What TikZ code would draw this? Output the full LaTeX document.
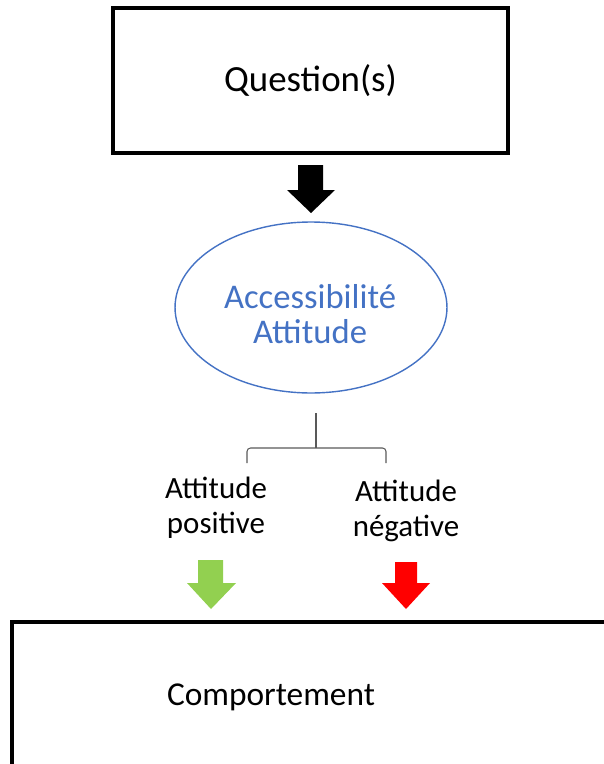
\documentclass[tikz,border=0pt]{standalone}
\usepackage{fontspec}
\setmainfont{Carlito}
\usetikzlibrary{positioning,shapes.geometric}
\definecolor{ellblue}{HTML}{4472C4}
\definecolor{posgreen}{HTML}{92D050}
\definecolor{negred}{HTML}{FF0000}
\tikzset{
  mainbox/.style={draw=black, line width=1.8pt, minimum width=7.9cm, minimum height=2.9cm,
    font=\fontsize{21}{25}\selectfont},
  accell/.style={ellipse, draw=ellblue, line width=0.8pt, minimum width=5.44cm, minimum height=3.42cm},
  acctext/.style={align=center, text=ellblue, font=\fontsize{19.7}{19.8}\selectfont},
  choice/.style={align=center, font=\fontsize{17.6}{19.8}\selectfont},
  bracket/.style={draw=gray!70!black, line width=0.6pt, rounded corners=2pt}
}
\begin{document}
\begin{tikzpicture}[x=0.02cm,y=-0.02cm]
\useasboundingbox (0,0) rectangle (603,764);

\node[mainbox] (question) at (310.5,80.5) {Question(s)};

% black arrow
\fill[black] (298,165) -- (323,165) -- (323,190) -- (335,190) -- (311,213) -- (287,190) -- (298,190) -- cycle;

\node[accell] (access) at (311,307.5) {};
\node[acctext] (accesstext) at (310,314) {Accessibilité\\Attitude};

% split
\coordinate (stem) at (316,413);
\coordinate (fork) at (316,448);
\coordinate (lefttick) at (247,463);
\coordinate (righttick) at (386,463);
\draw[bracket] (stem) -- (fork);
\draw[bracket] (lefttick) |- (fork) -| (righttick);

\node[choice] (positive) at (216,508) {Attitude\\positive};
\node[choice] (negative) at (406,511) {Attitude\\négative};

% coloured arrows
\fill[posgreen] (198,560) -- (223,560) -- (223,583) -- (236,583) -- (211,609) -- (187,583) -- (198,583) -- cycle;
\fill[negred] (395,562) -- (417,562) -- (417,583) -- (430,583) -- (406,609) -- (382,583) -- (395,583) -- cycle;

\draw[line width=1.8pt] (12,622) rectangle (640,790);
\node[font=\fontsize{19}{23}\selectfont] (behaviour) at (271,697) {Comportement};

\end{tikzpicture}
\end{document}
